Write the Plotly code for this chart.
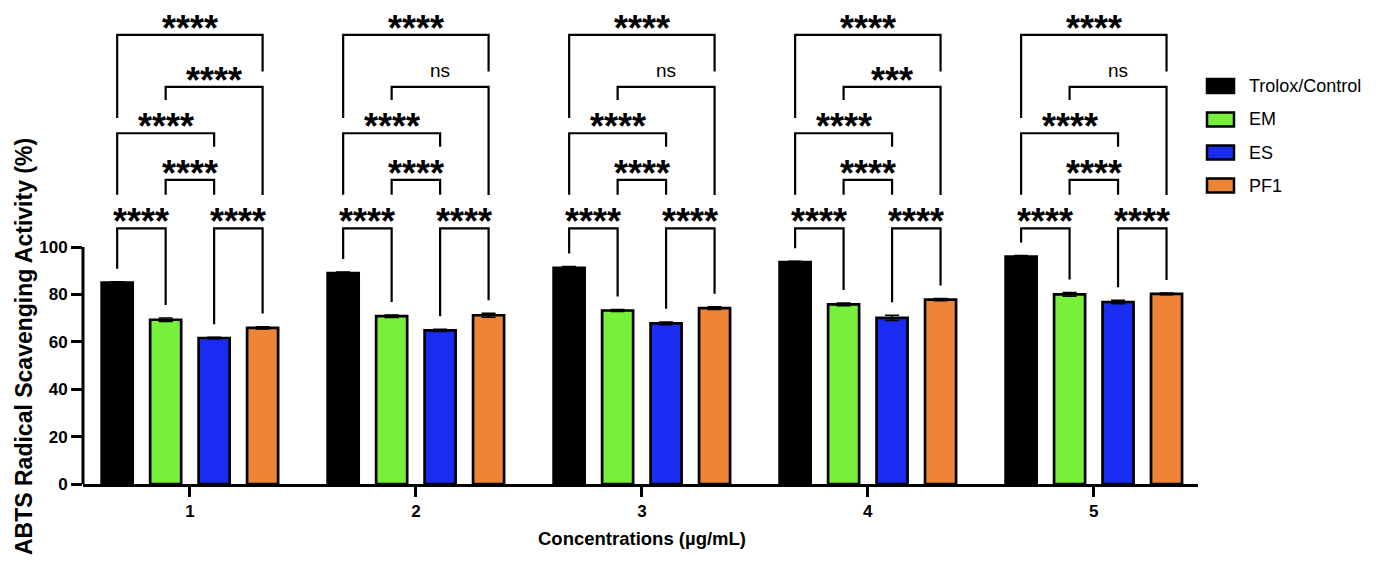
import plotly.graph_objects as go

# ---------------- data ----------------
concentrations = ["1", "2", "3", "4", "5"]
series_names = ["Trolox/Control", "EM", "ES", "PF1"]
trolox = [85.0, 89.0, 91.2, 93.6, 96.0]
em = [69.3, 70.8, 73.2, 75.8, 80.0]
es = [61.6, 64.8, 67.8, 70.1, 76.8]
pf1 = [65.9, 71.2, 74.2, 77.8, 80.2]
trolox_err = [0.3, 0.4, 0.6, 0.4, 0.4]
em_err = [0.7, 0.5, 0.4, 0.6, 0.8]
es_err = [0.3, 0.5, 0.6, 1.1, 0.7]
pf1_err = [0.5, 0.8, 0.6, 0.5, 0.4]

# significance pairs (bar index a, bar index b) and labels for each concentration
sig_pairs = [(0, 3), (1, 3), (0, 2), (1, 2), (0, 1), (2, 3)]
sig_labels = [
    ["****", "****", "****", "****", "****", "****"],
    ["****", "ns", "****", "****", "****", "****"],
    ["****", "ns", "****", "****", "****", "****"],
    ["****", "***", "****", "****", "****", "****"],
    ["****", "ns", "****", "****", "****", "****"],
]

# ---------------- style / layout ----------------
colors = ["#000000", "#78F03A", "#1B2CF2", "#EE8536"]
FONT = "Liberation Sans, Arial, sans-serif"
W, H = 1380, 570
L, R, T, B = 83, 1198, 0, 484          # plot area in pixels
PX_PER_UNIT = 2.37
Y_MAX = (B - T) / PX_PER_UNIT
BARGAP, BARGROUPGAP = 0.142, 0.36
X_RANGE = [-0.473, 4.461]

# bracket geometry: (bar level, left leg end, right leg end) ; None -> just above bar
bracket_geom = [
    (189.5, 154.4, 174.0),
    (167.6, 162.0, 121.9),
    (148.0, 122.0, 142.3),
    (128.3, 122.0, 122.0),
    (107.9, None, None),
    (107.9, None, None),
]
LEG_GAP = 5.5
TEXT_OFFSET = 7.0


def px_x(p):
    return (p - L) / (R - L)


def px_y(p):
    return (B - p) / (B - T)


values = [trolox, em, es, pf1]
errors = [trolox_err, em_err, es_err, pf1_err]
xs = list(range(len(concentrations)))

fig = go.Figure()
for name, vals, errs, col in zip(series_names, values, errors, colors):
    fig.add_trace(go.Bar(
        x=xs, y=vals, name=name,
        marker=dict(color=col, line=dict(color="black", width=2.7)),
        error_y=dict(type="data", array=errs, color="black", thickness=1.5, width=7),
        showlegend=False,
    ))

slot = (1 - BARGAP) / len(series_names)
shapes = []
annotations = []
line_style = dict(color="black", width=2.2)

for g in xs:
    centers = [g + (i - (len(series_names) - 1) / 2) * slot for i in range(len(series_names))]
    tops = [values[i][g] + errors[i][g] for i in range(len(series_names))]
    for (a, b), (level, lend, rend), lab in zip(sig_pairs, bracket_geom, sig_labels[g]):
        if lend is None:
            lend = tops[a] + LEG_GAP
        if rend is None:
            rend = tops[b] + LEG_GAP
        xa, xb = centers[a], centers[b]
        path = f"M {xa},{lend} L {xa},{level} L {xb},{level} L {xb},{rend}"
        shapes.append(dict(type="path", xref="x", yref="y", path=path, line=line_style))
        is_star = "*" in lab
        annotations.append(dict(
            x=(xa + xb) / 2, y=level + TEXT_OFFSET, xref="x", yref="y",
            text=lab, showarrow=False, xanchor="center", yanchor="middle",
            yshift=-10 if is_star else 0,
            font=dict(family=FONT, size=36 if is_star else 19, color="black",
                      weight="bold" if is_star else "normal"),
        ))

# y-axis line only from 0 to 100
shapes.append(dict(type="line", xref="paper", yref="y", x0=0, x1=0, y0=0, y1=100,
                   line=dict(color="black", width=3)))

# manual legend
legend_y = [86, 119.5, 152.5, 185.5]
for name, col, yc in zip(series_names, colors, legend_y):
    shapes.append(dict(type="rect", xref="paper", yref="paper",
                       x0=px_x(1207), x1=px_x(1234), y0=px_y(yc + 7), y1=px_y(yc - 7),
                       fillcolor=col, line=dict(color="black", width=2.5)))
    annotations.append(dict(x=px_x(1247), y=px_y(yc), xref="paper", yref="paper",
                            text=name, showarrow=False, xanchor="left", yanchor="middle",
                            font=dict(family=FONT, size=18, color="black")))

# axis titles
annotations.append(dict(x=px_x(24), y=px_y(347), xref="paper", yref="paper",
                        text="ABTS Radical Scavenging Activity (%)", textangle=-90,
                        showarrow=False, xanchor="center", yanchor="middle",
                        font=dict(family=FONT, size=23, color="black", weight="bold")))
annotations.append(dict(x=px_x(642), y=px_y(538), xref="paper", yref="paper",
                        text="Concentrations (µg/mL)",
                        showarrow=False, xanchor="center", yanchor="middle",
                        font=dict(family=FONT, size=18.5, color="black", weight="bold")))

fig.update_layout(
    width=W, height=H,
    margin=dict(l=L, r=W - R, t=T, b=H - B),
    plot_bgcolor="white", paper_bgcolor="white",
    barmode="group", bargap=BARGAP, bargroupgap=BARGROUPGAP,
    shapes=shapes, annotations=annotations,
    showlegend=False,
    xaxis=dict(range=X_RANGE, tickvals=xs, ticktext=concentrations,
               showline=True, linecolor="black", linewidth=3,
               ticks="outside", ticklen=10, tickwidth=2.5, tickcolor="black",
               showgrid=False, zeroline=False,
               tickfont=dict(family=FONT, size=17, color="black", weight="bold")),
    yaxis=dict(range=[0, Y_MAX], tickvals=[0, 20, 40, 60, 80, 100],
               showline=False, ticks="outside", ticklen=11, tickwidth=2.5,
               tickcolor="black", showgrid=False, zeroline=False,
               tickfont=dict(family=FONT, size=17, color="black", weight="bold")),
)

fig.write_html("out.html")
